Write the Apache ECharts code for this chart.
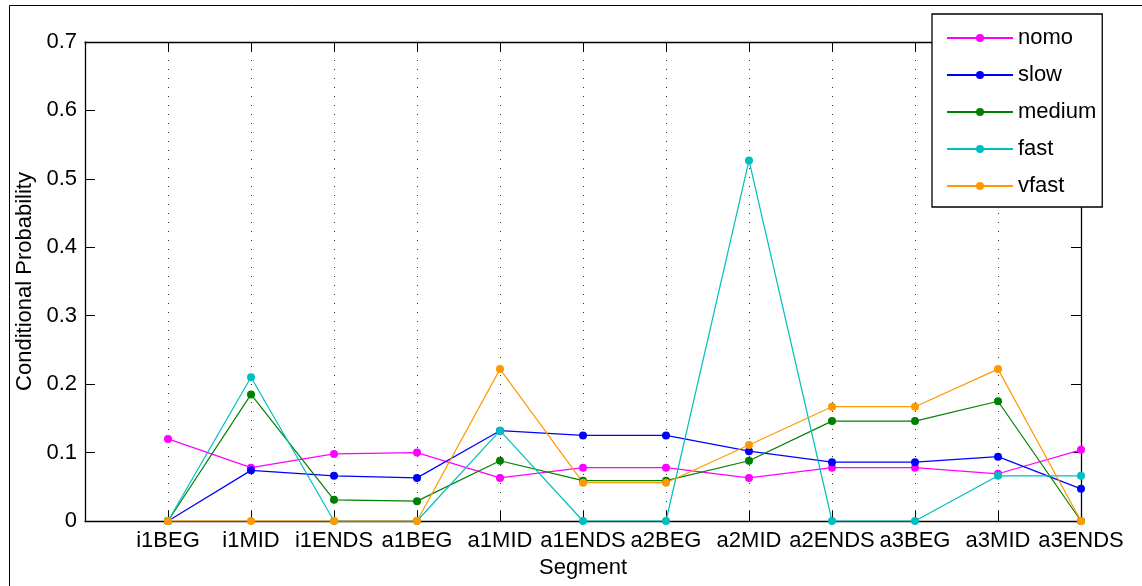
<!DOCTYPE html>
<html>
<head>
<meta charset="utf-8">
<script src="https://cdn.jsdelivr.net/npm/echarts@6/dist/echarts.min.js"></script>
<style>
html,body{margin:0;padding:0;background:#fff;}
#chart{width:1142px;height:586px;}
</style>
</head>
<body>
<div id="chart"></div>
<script>
const categories = ['i1BEG','i1MID','i1ENDS','a1BEG','a1MID','a1ENDS','a2BEG','a2MID','a2ENDS','a3BEG','a3MID','a3ENDS'];
const seriesNames = ['nomo','slow','medium','fast','vfast'];
const nomo   = [0.120, 0.078, 0.098, 0.100, 0.063, 0.078, 0.078, 0.063, 0.078, 0.078, 0.069, 0.104];
const slow   = [0,     0.074, 0.066, 0.063, 0.132, 0.125, 0.125, 0.102, 0.086, 0.086, 0.094, 0.047];
const medium = [0,     0.185, 0.031, 0.029, 0.088, 0.059, 0.059, 0.088, 0.146, 0.146, 0.175, 0];
const fast   = [0,     0.210, 0,     0,     0.132, 0,     0,     0.527, 0,     0,     0.066, 0.066];
const vfast  = [0,     0,     0,     0,     0.222, 0.056, 0.056, 0.111, 0.167, 0.167, 0.222, 0];
const yTicks = [0, 0.1, 0.2, 0.3, 0.4, 0.5, 0.6, 0.7];

const values = [nomo, slow, medium, fast, vfast];
const colors = ['#ff00ff', '#0000ff', '#008000', '#00bfbf', '#ff9900'];
const FONT = '"Liberation Sans", Arial, Helvetica, sans-serif';
const FS = 22;

const chart = echarts.init(document.getElementById('chart'), null, {renderer: 'canvas'});

const tickStyle = {show: true, inside: true, length: 10, lineStyle: {color: '#000', width: 1}};
const axisLineStyle = {show: true, onZero: false, lineStyle: {color: '#000', width: 1.3}};

const option = {
  animation: false,
  backgroundColor: '#fff',
  textStyle: {fontFamily: FONT},
  graphic: [{
    type: 'rect', left: 7, top: 3, z: -10,
    shape: {width: 1133, height: 620},
    style: {fill: 'none', stroke: '#000', lineWidth: 1}
  }],
  grid: {left: 85, right: 61, top: 42, bottom: 65, containLabel: false},
  legend: {
    data: seriesNames,
    orient: 'vertical',
    left: 932, top: 14,
    padding: [13, 6, 10, 14],
    itemGap: 15,
    itemWidth: 66,
    itemHeight: 10,
    backgroundColor: '#fff',
    borderColor: '#000',
    borderWidth: 1.3,
    textStyle: {fontFamily: FONT, fontSize: FS, color: '#000'},
    z: 20
  },
  xAxis: [{
    type: 'value', min: 0, max: 12, interval: 1,
    position: 'bottom',
    name: 'Segment', nameLocation: 'middle', nameGap: 36,
    nameTextStyle: {fontFamily: FONT, fontSize: FS, color: '#000'},
    axisLine: axisLineStyle,
    axisTick: tickStyle,
    axisLabel: {
      color: '#000', fontFamily: FONT, fontSize: FS, margin: 9,
      showMinLabel: true, showMaxLabel: true, hideOverlap: false,
      formatter: function (v) { return (v >= 1 && v <= categories.length) ? categories[v - 1] : ''; }
    },
    splitLine: {show: true, lineStyle: {color: '#333', width: 1, type: [1, 8]}}
  }, {
    type: 'value', min: 0, max: 12, interval: 1,
    position: 'top',
    axisLine: axisLineStyle,
    axisTick: tickStyle,
    axisLabel: {show: false},
    splitLine: {show: false}
  }],
  yAxis: [{
    type: 'value', min: 0, max: 0.7, interval: 0.1,
    position: 'left',
    name: 'Conditional Probability', nameLocation: 'middle', nameGap: 48,
    nameTextStyle: {fontFamily: FONT, fontSize: FS, color: '#000'},
    axisLine: axisLineStyle,
    axisTick: tickStyle,
    axisLabel: {color: '#000', fontFamily: FONT, fontSize: FS, margin: 8,
      formatter: function (v) { const t = yTicks.find(function (x) { return Math.abs(x - v) < 1e-9; }); return t === undefined ? '' : String(t); }},
    splitLine: {show: false}
  }, {
    type: 'value', min: 0, max: 0.7, interval: 0.1,
    position: 'right',
    axisLine: axisLineStyle,
    axisTick: tickStyle,
    axisLabel: {show: false},
    splitLine: {show: false}
  }],
  series: seriesNames.map(function (name, i) {
    return {
      name: name,
      type: 'line',
      xAxisIndex: 0, yAxisIndex: 0,
      data: values[i].map(function (v, j) { return [j + 1, v]; }),
      symbol: 'circle',
      symbolSize: 8,
      showSymbol: true,
      color: colors[i],
      itemStyle: {color: colors[i]},
      lineStyle: {color: colors[i], width: 1.2},
      emphasis: {disabled: true},
      clip: false
    };
  })
};
chart.setOption(option);
</script>
</body>
</html>
